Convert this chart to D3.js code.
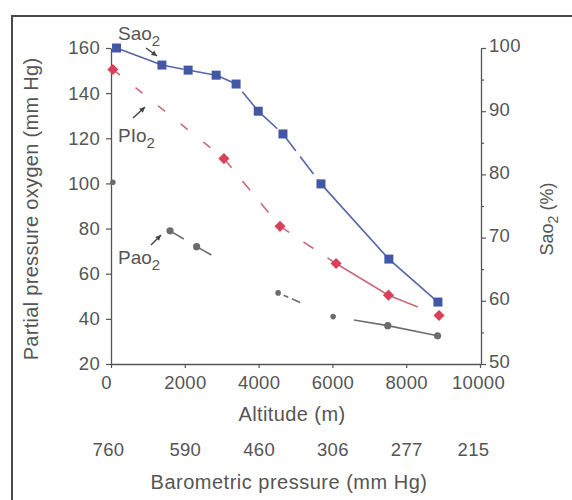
<!DOCTYPE html>
<html>
<head>
<meta charset="utf-8">
<script src="https://cdn.jsdelivr.net/npm/d3@7"></script>
<style>
  html, body { margin: 0; padding: 0; background: #fff; }
  svg { display: block; }
  text { font-family: "Liberation Sans", Arial, Helvetica, sans-serif; fill: #555; }
</style>
</head>
<body>
<svg id="chart" width="572" height="500"></svg>
<script>
// Altitude (m) and measured oxygen values
const altitudeTicks = [0, 2000, 4000, 6000, 8000, 10000];
const pressureLabels = ["760", "590", "460", "306", "277", "215"];
const leftTicks = [20, 40, 60, 80, 100, 120, 140, 160];
const rightTicks = [50, 60, 70, 80, 90, 100];

const saoAltitude = [150, 1380, 2090, 2850, 3390, 3990, 4660, 5690, 7530, 8860];
const saoValues   = [100, 97.3, 96.5, 95.7, 94.3, 90.0, 86.4, 78.5, 66.6, 59.8];

const pioAltitude = [50, 3060, 4580, 6100, 7520, 8890];
const pioValues   = [150.5, 111, 81, 64.5, 50.5, 41.5];

const paoAltitude = [50, 1600, 2320, 4530, 6020, 7500, 8850];
const paoValues   = [100.5, 79, 72, 51.5, 41, 37, 32.5];

const svg = d3.select("#chart");
const ink = "#555";

// outer frame
svg.append("path")
  .attr("d", "M12,500 V16 H572")
  .attr("fill", "none").attr("stroke", "#4a4a4a").attr("stroke-width", 2);

const x = d3.scaleLinear().domain([0, 10000]).range([111, 480]);
const yL = d3.scaleLinear().domain([20, 160]).range([364, 48]);
const yR = d3.scaleLinear().domain([50, 100]).range([364, 48]);

function styleAxis(g) {
  g.select(".domain").attr("stroke", ink).attr("stroke-width", 1.3);
  g.selectAll(".tick line").attr("stroke", ink).attr("stroke-width", 1.2);
  g.selectAll(".tick text")
    .style("font-family", '"Liberation Sans", Arial, sans-serif')
    .style("font-size", "18.5px").style("letter-spacing", "0.3px").attr("fill", ink);
}

// bottom axis (altitude)
svg.append("g").attr("transform", "translate(0,364)")
  .call(d3.axisBottom(x).tickValues(altitudeTicks).tickFormat(d3.format("d"))
        .tickSizeInner(4).tickSizeOuter(0).tickPadding(8))
  .call(styleAxis)
  .call(g => g.selectAll(".tick text").attr("dx", d => d === 0 ? -5 : (d === 10000 ? -2 : 0)));

// barometric pressure labels under the altitude ticks
svg.append("g").attr("transform", "translate(0,364)")
  .call(d3.axisBottom(x).tickValues(altitudeTicks)
        .tickFormat((d, i) => pressureLabels[i]).tickSize(0).tickPadding(79))
  .call(g => g.select(".domain").remove())
  .call(styleAxis)
  .call(g => g.selectAll(".tick text").attr("dx", d => d === 0 ? -3 : (d === 10000 ? -7 : 0)));

// left axis (partial pressure)
svg.append("g").attr("transform", "translate(111,0)")
  .call(d3.axisLeft(yL).tickValues(leftTicks).tickSizeInner(5).tickSizeOuter(0).tickPadding(6))
  .call(styleAxis);

// right axis (saturation), minor ticks every 5 %
svg.append("g").attr("transform", "translate(481,0)")
  .call(d3.axisRight(yR).tickValues(d3.range(55, 100, 10)).tickSize(3).tickFormat(""))
  .call(g => g.select(".domain").remove())
  .call(styleAxis);
svg.append("g").attr("transform", "translate(481,0)")
  .call(d3.axisRight(yR).tickValues(rightTicks).tickSizeInner(5).tickSizeOuter(0).tickPadding(3))
  .call(styleAxis)
  .call(g => g.selectAll(".tick text").attr("y", -2));

// axis titles
svg.append("text").attr("x", 292).attr("y", 421).attr("text-anchor", "middle")
  .style("font-size", "20px").style("letter-spacing", "0.4px").text("Altitude (m)");
svg.append("text").attr("x", 289).attr("y", 489).attr("text-anchor", "middle")
  .style("font-size", "20px").style("letter-spacing", "0.5px").text("Barometric pressure (mm Hg)");
svg.append("text").attr("transform", "translate(38,209) rotate(-90)").attr("text-anchor", "middle")
  .style("font-size", "20px").style("letter-spacing", "0.3px").text("Partial pressure oxygen (mm Hg)");
const rt = svg.append("text").attr("transform", "translate(553,219) rotate(-90)").attr("text-anchor", "middle")
  .style("font-size", "18px");
rt.append("tspan").text("Sao");
rt.append("tspan").attr("dy", 5).style("font-size", "14px").text("2");
rt.append("tspan").attr("dy", -5).text(" (%)");

// draw a polyline piece with a given dash pattern
function piece(xs, ys, yScale, from, to, color, dash, width) {
  const pts = d3.range(from, to + 1).map(i => [x(xs[i]), yScale(ys[i])]);
  return svg.append("path")
    .attr("d", d3.line()(pts))
    .attr("fill", "none").attr("stroke", color)
    .attr("stroke-width", width || 1.6)
    .attr("stroke-dasharray", dash);
}

// SaO2 line (right scale)
const blueLine = "#5666a6";
piece(saoAltitude, saoValues, yR, 0, 1, blueLine, null);
piece(saoAltitude, saoValues, yR, 1, 7, blueLine, "22,7");
piece(saoAltitude, saoValues, yR, 7, 9, blueLine, null);

// PIO2 line: short dashes, then solid, stopping short of the last point
const redLine = "#c86a78";
piece(pioAltitude, pioValues, yL, 0, 1, redLine, "9,20");
piece(pioAltitude, pioValues, yL, 1, 3, redLine, "12,17");
const solidRed = piece(pioAltitude, pioValues, yL, 3, 5, redLine, null);
{
  const total = solidRed.node().getTotalLength();
  const last = Math.hypot(x(pioAltitude[5]) - x(pioAltitude[4]), yL(pioValues[5]) - yL(pioValues[4]));
  const keep = total - last * 0.42;
  solidRed.attr("stroke-dasharray", `${keep},${total}`);
}

// PaO2 line: fragments trailing each point, solid at the top altitudes
const grayLine = "#6e6e6e";
piece(paoAltitude, paoValues, yL, 1, 2, grayLine, "16,999");
piece(paoAltitude, paoValues, yL, 2, 3, grayLine, "17,999");
piece(paoAltitude, paoValues, yL, 3, 4, grayLine, "0,6,5,4,9,999");
piece(paoAltitude, paoValues, yL, 4, 5, grayLine, "0,21,999");
piece(paoAltitude, paoValues, yL, 5, 6, grayLine, null);

// markers
svg.append("g").selectAll("rect").data(saoAltitude).join("rect")
  .attr("x", (d, i) => x(d) - 4.5).attr("y", (d, i) => yR(saoValues[i]) - 4.5)
  .attr("width", 9).attr("height", 9).attr("fill", "#4258a6");

svg.append("g").selectAll("path").data(pioAltitude).join("path")
  .attr("d", d3.symbol(d3.symbolSquare, 62))
  .attr("transform", (d, i) => `translate(${x(d)},${yL(pioValues[i])}) rotate(45)`)
  .attr("fill", "#d9415a");

svg.append("g").selectAll("circle").data(paoAltitude).join("circle")
  .attr("cx", d => x(d)).attr("cy", (d, i) => yL(paoValues[i]))
  .attr("r", (d, i) => i === 0 ? 2.8 : (i === 3 || i === 4 ? 2.8 : 3.6)).attr("fill", "#6c6c6c");

// series annotations with arrows
function arrow(x1, y1, x2, y2) {
  svg.append("line").attr("x1", x1).attr("y1", y1).attr("x2", x2).attr("y2", y2)
    .attr("stroke", "#444").attr("stroke-width", 1.4);
  const a = Math.atan2(y2 - y1, x2 - x1);
  const h = 5.5, w = 2.8;
  const bx = x2 - h * Math.cos(a), by = y2 - h * Math.sin(a);
  svg.append("path")
    .attr("d", `M${x2},${y2} L${bx - w * Math.sin(a)},${by + w * Math.cos(a)} L${bx + w * Math.sin(a)},${by - w * Math.cos(a)} Z`)
    .attr("fill", "#444");
}
function subLabel(px, py, main, sub) {
  const t = svg.append("text").attr("x", px).attr("y", py).style("font-size", "19px");
  t.append("tspan").text(main);
  t.append("tspan").attr("dy", 6).style("font-size", "15px").text(sub);
}
subLabel(118, 40, "Sao", "2");
arrow(146, 48, 157, 56);
subLabel(118, 142, "PIo", "2");
arrow(133, 118, 145, 107);
subLabel(118, 264, "Pao", "2");
arrow(151, 245, 161, 235);
</script>
</body>
</html>
